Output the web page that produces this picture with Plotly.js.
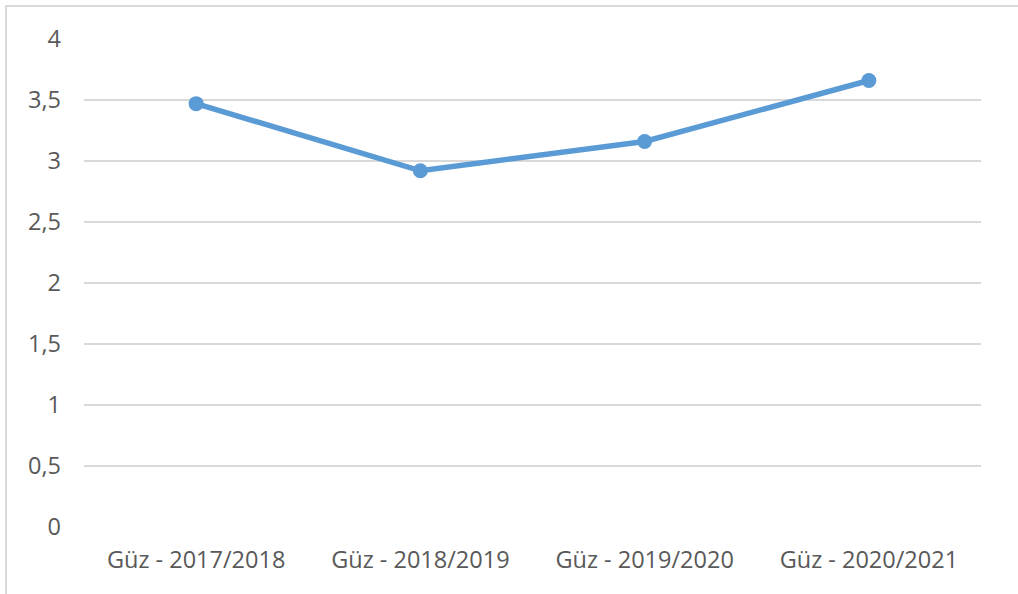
<!DOCTYPE html>
<html>
<head>
<meta charset="utf-8">
<script src="https://cdn.plot.ly/plotly-3.0.1.min.js"></script>
<style>
  html, body { margin: 0; padding: 0; background: #fff; }
  #frame { position: absolute; left: 5px; top: 5px; width: 1100px; height: 700px;
           border-top: 2px solid #d9d9d9; border-left: 2px solid #d9d9d9; }
  #chart { position: absolute; left: 0; top: 0; width: 1018px; height: 594px; }
</style>
</head>
<body>
<div id="frame"></div>
<div id="chart"></div>
<script>
const categories = ["Güz - 2017/2018", "Güz - 2018/2019", "Güz - 2019/2020", "Güz - 2020/2021"];
const values = [3.47, 2.92, 3.16, 3.66];
const yTickVals = [0, 0.5, 1, 1.5, 2, 2.5, 3, 3.5, 4];
const yTickText = ["0", "0,5", "1", "1,5", "2", "2,5", "3", "3,5", "4"];

const trace = {
  x: categories,
  y: values,
  type: "scatter",
  mode: "lines+markers",
  line: { color: "#5b9bd5", width: 5.5 },
  marker: { color: "#5b9bd5", size: 15 },
  hoverinfo: "x+y"
};

const layout = {
  width: 1018,
  height: 594,
  margin: { l: 84, r: 37, t: 39, b: 67 },
  paper_bgcolor: "rgba(0,0,0,0)",
  plot_bgcolor: "rgba(0,0,0,0)",
  showlegend: false,
  font: { family: "Open Sans, Noto Sans, sans-serif", size: 23.5, color: "#595959" },
  xaxis: {
    type: "category",
    range: [-0.5, 3.5],
    showgrid: false,
    zeroline: false,
    showline: false,
    ticks: "",
    ticklabelstandoff: 16,
    fixedrange: true
  },
  yaxis: {
    range: [0, 4],
    tickvals: yTickVals,
    ticktext: yTickText,
    showgrid: true,
    gridcolor: "#d9d9d9",
    gridwidth: 1.5,
    zeroline: false,
    showline: false,
    ticks: "",
    ticklabelstandoff: 22,
    fixedrange: true
  }
};

Plotly.newPlot("chart", [trace], layout, { displayModeBar: false, staticPlot: true });
</script>
</body>
</html>
